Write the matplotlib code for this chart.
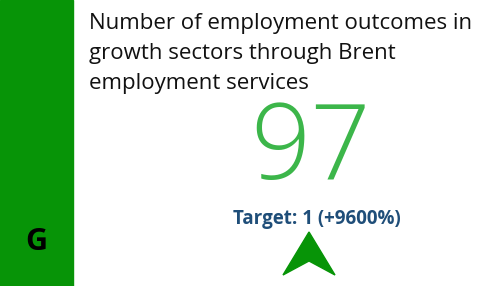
import matplotlib.pyplot as plt
from matplotlib.patches import Rectangle, Polygon

# kpi card data
title_lines = ["Number of employment outcomes in",
               "growth sectors through Brent",
               "employment services"]
actual = 97
target = 1
change_pct = (actual - target) / target * 100
rag = "G"

band_green = "#079407"
value_green = "#3cb64a"
target_blue = "#1f4e79"

fig = plt.figure(figsize=(4.8, 2.86), dpi=100)
ax = fig.add_axes([0, 0, 1, 1])
ax.set_xlim(0, 480)
ax.set_ylim(286, 0)
ax.axis("off")

# status band on the left
ax.add_patch(Rectangle((0, 0), 73, 286, color=band_green))
ax.text(36, 242, rag, ha="center", va="center", fontsize=22,
        fontweight="bold", family="Open Sans", color="black")

# title
for i, line in enumerate(title_lines):
    ax.text(89, 24 + i * 29.5, line, ha="left", va="center", fontsize=16,
            family="Open Sans", color="#111111")

# big value
ax.text(311, 151, str(actual), ha="center", va="center", fontsize=76,
        family="Open Sans", fontweight="light", color=value_green)

# target line
ax.text(317, 219, f"Target: {target} (+{change_pct:.0f}%)", ha="center",
        va="center", fontsize=13.5, fontweight="bold", family="Open Sans",
        color=target_blue)

# up arrow
ax.add_patch(Polygon([(309, 232), (335, 275), (309, 261), (283, 275)],
                     closed=True, color=band_green))

fig.savefig("out.png", dpi=100)
